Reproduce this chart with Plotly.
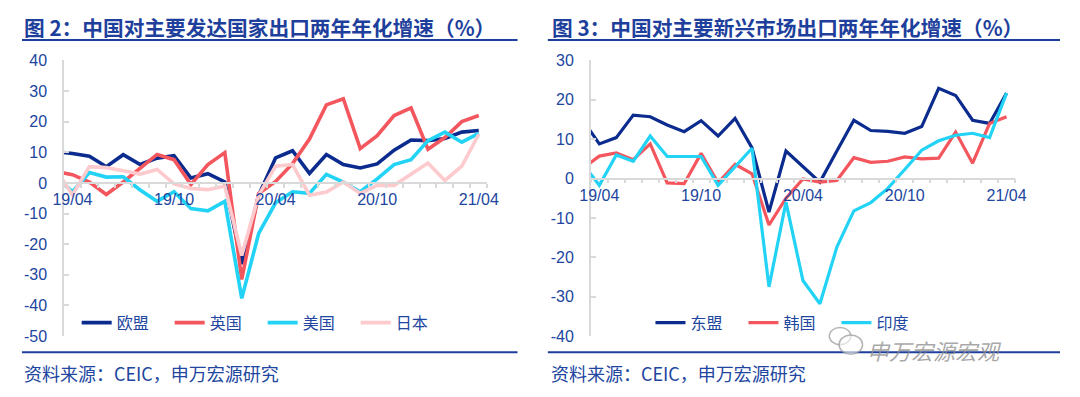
import plotly.graph_objects as go

# ---------------- data ----------------
months = ["19/03", "19/04", "19/05", "19/06", "19/07", "19/08", "19/09", "19/10", "19/11", "19/12",
          "20/01", "20/02", "20/03", "20/04", "20/05", "20/06", "20/07", "20/08", "20/09", "20/10",
          "20/11", "20/12", "21/01", "21/02", "21/03", "21/04"]
tick_labels = ["19/04", "19/10", "20/04", "20/10", "21/04"]
left_yticks = [40, 30, 20, 10, 0, -10, -20, -30, -40, -50]
right_yticks = [30, 20, 10, 0, -10, -20, -30, -40]

eu = [10.2, 9.6, 8.7, 5.3, 9.2, 6.0, 8.1, 8.9, 1.6, 3.0, 0.3, -26.5, -4.0, 8.2, 10.5, 3.1,
      9.3, 6.0, 4.9, 6.2, 10.7, 14.0, 13.8, 14.5, 16.6, 17.1]
uk = [3.7, 2.7, 0.3, -3.8, 0.3, 4.9, 9.3, 7.6, -0.5, 6.0, 9.9, -31.5, -3.5, 0.5, 6.3, 14.3,
      25.5, 27.5, 11.2, 15.4, 22.0, 24.5, 11.0, 14.8, 20.0, 22.0]
us = [2.3, -2.9, 3.4, 1.9, 2.0, -2.3, -6.0, -2.9, -8.4, -9.1, -6.0, -37.7, -16.5, -6.5, -2.9, -3.4,
      2.8, 0.3, -2.9, 1.3, 6.0, 7.6, 13.8, 16.6, 13.3, 16.2]
jp = [4.5, -3.9, 5.3, 5.0, 4.0, 2.9, 4.4, -0.3, -1.8, -2.2, -1.0, -23.7, -4.0, 5.5, 6.0, -4.0,
      -3.0, 0.3, -3.4, -0.8, -0.8, 2.9, 6.5, 0.8, 5.5, 15.9]

asean = [15.0, 8.8, 10.4, 16.1, 15.7, 13.6, 11.9, 14.7, 10.8, 15.3, 7.8, -8.5, 7.0, 3.0, -0.9, 7.0,
         14.8, 12.2, 12.0, 11.5, 13.2, 22.9, 21.1, 14.8, 14.0, 21.7]
korea = [2.5, 5.7, 6.5, 4.8, 8.8, -1.1, -1.3, 6.4, -1.1, 3.6, 1.2, -11.8, -5.0, -0.1, -0.9, -0.5,
         5.3, 4.1, 4.4, 5.5, 5.0, 5.2, 11.8, 3.9, 14.0, 15.7]
india = [3.9, -1.7, 6.0, 4.4, 10.8, 5.6, 5.6, 5.6, -1.7, 3.1, 7.7, -27.5, -6.0, -25.9, -31.8, -17.4,
         -8.2, -6.1, -2.5, 2.3, 7.2, 9.6, 11.0, 11.5, 10.4, 21.7]

left_names = ["欧盟", "英国", "美国", "日本"]
right_names = ["东盟", "韩国", "印度"]
title_left = "图 2：中国对主要发达国家出口两年年化增速（%）"
title_right = "图 3：中国对主要新兴市场出口两年年化增速（%）"
source_text = "资料来源：CEIC，申万宏源研究"
watermark = "申万宏源宏观"

# ---------------- style / page geometry ----------------
PAGE_W, PAGE_H = 1080, 397
BODY_MARGIN = 8                      # default browser body margin
W, H = PAGE_W - 2 * BODY_MARGIN, PAGE_H - 2 * BODY_MARGIN


def px(x):   # page pixel -> paper fraction (x)
    return (x - BODY_MARGIN) / W


def py(y):   # page pixel (from top) -> paper fraction (y)
    return 1 - (y - BODY_MARGIN) / H


NAVY = "#0B2C8E"
RED = "#F4565E"
CYAN = "#22D3F6"
PINK = "#FDCACD"
TXT = "#2146A0"
TITLE = "#1E3F9C"
AXC = "#D9D9D9"
FONT = "Liberation Sans, Noto Sans CJK SC, sans-serif"
CJK = "Noto Sans CJK SC, sans-serif"

xi = list(range(len(months)))
tickvals = [months.index(t) for t in tick_labels]

fig = go.Figure()
for name, vals, col in zip(left_names, [eu, uk, us, jp], [NAVY, RED, CYAN, PINK]):
    fig.add_trace(go.Scatter(x=xi, y=vals, name=name, mode="lines", xaxis="x", yaxis="y",
                             line=dict(color=col, width=3.6), legend="legend"))
for name, vals, col in zip(right_names, [asean, korea, india], [NAVY, RED, CYAN]):
    fig.add_trace(go.Scatter(x=xi, y=vals, name=name, mode="lines", xaxis="x2", yaxis="y2",
                             line=dict(color=col, width=3.2), legend="legend2"))

ydom = [py(343), py(54.5)]
lrange = [min(left_yticks), max(left_yticks)]
rrange = [min(right_yticks), max(right_yticks)]


def zero_pos(rng):
    return ydom[0] + (0 - rng[0]) / (rng[1] - rng[0]) * (ydom[1] - ydom[0])


def ytext(vals):
    return [str(v) for v in vals]  # plain hyphen minus like the reference


xcommon = dict(range=[0.5, len(months) - 0.5], tickmode="array", tickvals=tickvals, ticktext=tick_labels,
               ticks="", showline=True, linecolor=AXC, linewidth=1.5, showgrid=False, zeroline=False,
               tickfont=dict(family=FONT, size=16, color=TXT), anchor="free", ticklabelstandoff=2,
               minor=dict(ticks="outside", ticklen=4, tickcolor=AXC, tickwidth=1.5, tick0=0.5, dtick=1,
                          showgrid=False))
ycommon = dict(showline=True, linecolor=AXC, linewidth=1.5, ticks="inside", ticklen=5, tickcolor=AXC,
               tickwidth=1.5, showgrid=False, zeroline=False, tickmode="array",
               tickfont=dict(family=FONT, size=16, color=TXT), ticklabelstandoff=12)

fig.update_layout(
    width=W, height=H, margin=dict(l=0, r=0, t=0, b=0),
    paper_bgcolor="white", plot_bgcolor="white",
    xaxis=dict(domain=[px(53), px(486)], position=zero_pos(lrange), **xcommon),
    yaxis=dict(domain=ydom, range=lrange, anchor="x", tickvals=left_yticks, ticktext=ytext(left_yticks),
               **ycommon),
    xaxis2=dict(domain=[px(592), px(1026)], position=zero_pos(rrange), **xcommon),
    yaxis2=dict(domain=ydom, range=rrange, anchor="x2", tickvals=right_yticks, ticktext=ytext(right_yticks),
                **ycommon),
    legend=dict(orientation="h", x=px(66), xanchor="left", y=py(329), yanchor="middle",
                font=dict(family=CJK, size=16, color=TXT), entrywidth=48, entrywidthmode="pixels",
                bgcolor="rgba(0,0,0,0)"),
    legend2=dict(orientation="h", x=px(653), xanchor="left", y=py(329), yanchor="middle",
                 font=dict(family=CJK, size=16, color=TXT), entrywidth=48, entrywidthmode="pixels",
                 bgcolor="rgba(0,0,0,0)"),
    showlegend=True,
)

annos = []
for x0, t in [(10, title_left), (550, title_right)]:
    annos.append(dict(text="<b>" + t + "</b>", x=px(x0), y=py(20), xref="paper", yref="paper",
                      xanchor="left", yanchor="middle", showarrow=False,
                      font=dict(family=CJK, size=20.7, color=TITLE)))
for x0 in [10, 549]:
    annos.append(dict(text=source_text, x=px(x0), y=py(382), xref="paper", yref="paper",
                      xanchor="left", yanchor="middle", showarrow=False,
                      font=dict(family=CJK, size=18, color=TXT)))
annos.append(dict(text=watermark, x=px(873), y=py(358), xref="paper", yref="paper",
                  xanchor="left", yanchor="middle", showarrow=False,
                  font=dict(family=CJK, size=22, color="rgba(140,140,140,0.75)", style="italic")))
fig.update_layout(annotations=annos)

shapes = []
for x0, x1 in [(10, 517), (548, 1072)]:
    for yy in [33, 360]:
        shapes.append(dict(type="line", xref="paper", yref="paper", x0=px(x0), x1=px(x1),
                           y0=py(yy), y1=py(yy), line=dict(color=TITLE, width=2)))
# wechat-like icon outline (decoration)
shapes.append(dict(type="circle", xref="paper", yref="paper", x0=px(836), x1=px(858),
                   y0=py(352), y1=py(334), line=dict(color="rgba(150,150,150,0.7)", width=1.5),
                   fillcolor="rgba(255,255,255,0.6)"))
shapes.append(dict(type="circle", xref="paper", yref="paper", x0=px(846), x1=px(870),
                   y0=py(362), y1=py(342), line=dict(color="rgba(150,150,150,0.7)", width=1.5),
                   fillcolor="rgba(255,255,255,0.6)"))
fig.update_layout(shapes=shapes)

fig.write_html("out.html", config={"displayModeBar": False})
